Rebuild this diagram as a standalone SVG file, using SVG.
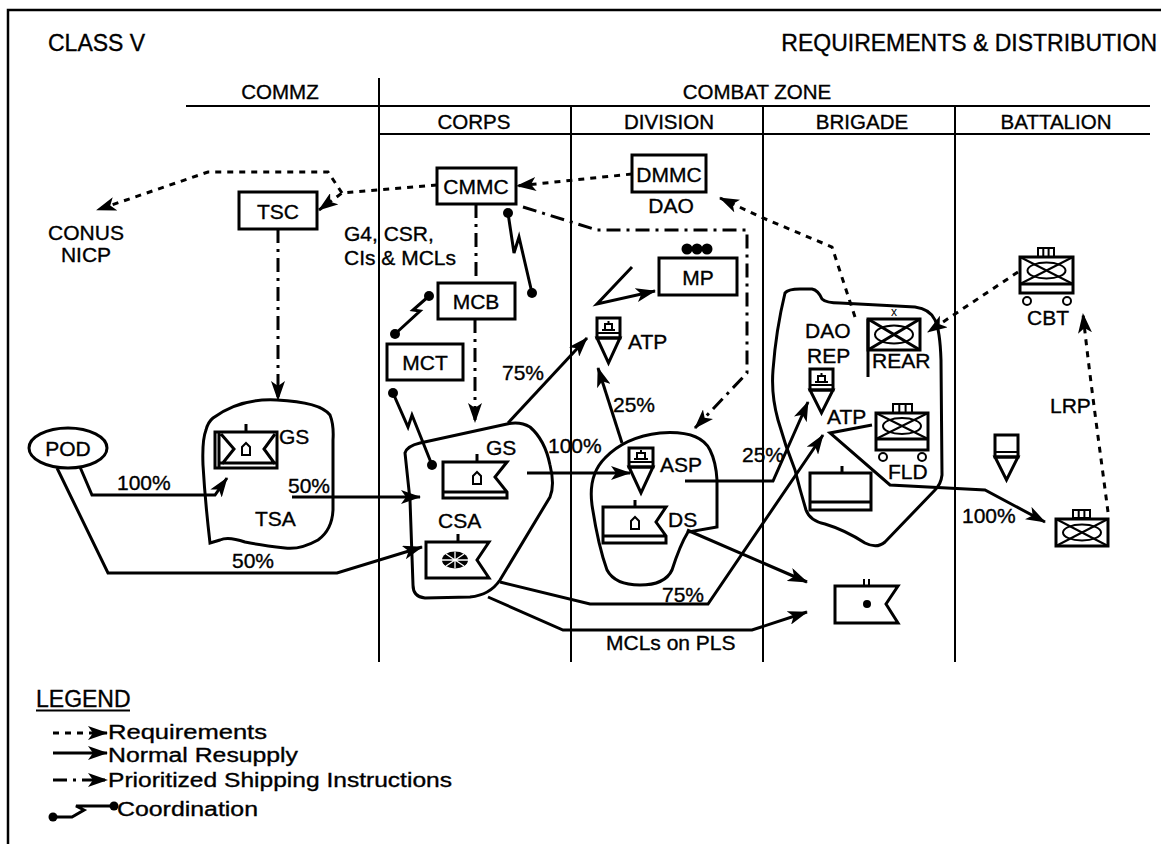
<svg xmlns="http://www.w3.org/2000/svg" width="1161" height="844" viewBox="0 0 1161 844">
<style>
text{font-family:"Liberation Sans",Arial,Helvetica,sans-serif;fill:#000;stroke:#000;stroke-width:0.35}
.t{font-size:21px}
.h{font-size:20.5px}
.ti{font-size:23px}
.lg{font-size:20px}
.lgh{font-size:23px}
.sm{font-size:12px;stroke-width:0}
.c{text-anchor:middle}
.frame{fill:none;stroke:#000;stroke-width:2.5}
.grid{fill:none;stroke:#000;stroke-width:2}
.box{fill:#fff;stroke:#000;stroke-width:3}
.sym{fill:none;stroke:#000;stroke-width:3}
.thin{fill:none;stroke:#000;stroke-width:2}
.blob{fill:none;stroke:#000;stroke-width:3}
.sol{fill:none;stroke:#000;stroke-width:3}
.req{fill:none;stroke:#000;stroke-width:3;stroke-dasharray:6 6}
.pri{fill:none;stroke:#000;stroke-width:3;stroke-dasharray:14 6 3 6}
.coord{fill:none;stroke:#000;stroke-width:3}
.dot{fill:#000}
</style>
<defs>
<marker id="arr" viewBox="0 0 20 14" refX="19" refY="7" markerWidth="20" markerHeight="14" markerUnits="userSpaceOnUse" orient="auto"><path d="M0,0 L20,7 L0,14 L5,7 Z" fill="#000"/></marker>
</defs>
<rect x="0" y="0" width="1161" height="844" fill="#fff"/>
<g id="frame">
<path class="frame" d="M8,844 V10 H1161"/>
<path class="grid" d="M186,106 H1150 M379,134 H1150 M379,78 V662 M571,106 V662 M763,106 V662 M955,106 V662"/>
<text class="ti" x="48" y="51">CLASS V</text>
<text class="ti" x="1157" y="51" text-anchor="end">REQUIREMENTS &amp; DISTRIBUTION</text>
<text class="h c" x="280" y="99">COMMZ</text>
<text class="h c" x="757" y="99">COMBAT ZONE</text>
<text class="h c" x="474" y="129">CORPS</text>
<text class="h c" x="669" y="129">DIVISION</text>
<text class="h c" x="862" y="129">BRIGADE</text>
<text class="h c" x="1056" y="129">BATTALION</text>
</g>
<g id="blobs">
<path id="tsa-area" class="blob" d="M213,418 Q240,398 277,400 Q320,402 330,415 Q334,425 333,440 L333,510 Q332,530 318,540 Q300,550 285,548 Q260,545 245,542 Q228,536 220,540 L210,543 Q205,500 203,465 Q202,440 206,430 Q208,422 213,418 Z"/>
<path id="csa-area" class="blob" d="M405,453 Q407,446 420,443 L507,424 Q520,421 530,427 Q545,440 550,465 Q555,485 550,497 L500,580 Q490,595 470,597 L425,598 Q413,597 413,585 L410,500 Z"/>
<path id="asp-area" class="blob" d="M717,480 L717,527 L688,532 Q680,545 672,570 Q665,585 640,585 Q615,585 607,570 Q598,545 592,505 Q588,475 605,458 Q625,437 660,433 Q700,430 710,450 Q716,462 717,480 Z"/>
<path id="bde-area" class="blob" d="M785,293 Q788,289 800,289 L812,289 Q818,290 822,299 Q826,303 840,303 L915,307 Q930,309 935,320 Q940,330 941,360 L942,475 Q941,484 935,490 L885,542 Q877,549 865,543 Q845,530 825,524 Q810,521 806,510 Q800,490 795,470 Q785,445 778,420 Q771,395 773,370 Q776,330 785,293 Z"/>
</g>
<g id="connectors">
<path class="req" d="M437,185 L342,193 L319,210" marker-end="url(#arr)"/>
<path class="req" d="M342,193 L328,172 L208,172 L97,210" marker-end="url(#arr)"/>
<path class="req" d="M632,174 L517,186" marker-end="url(#arr)"/>
<path class="req" d="M855,317 L832,247 L763,218 L720,198" marker-end="url(#arr)"/>
<path class="req" d="M1018,272 L928,332" marker-end="url(#arr)"/>
<path class="req" d="M1108,512 C1100,450 1090,380 1083,314" marker-end="url(#arr)"/>
<path class="sol" d="M80,467 L92,495 L215,495 L227,478" marker-end="url(#arr)"/>
<path class="sol" d="M57,468 L108,573 L337,573 L422,547" marker-end="url(#arr)"/>
<path class="sol" d="M292,497 L420,497" marker-end="url(#arr)"/>
<path class="sol" d="M508,423 L587,338" marker-end="url(#arr)"/>
<path class="sol" d="M527,473 L630,473" marker-end="url(#arr)"/>
<path class="sol" d="M622,443 L598,368" marker-end="url(#arr)"/>
<path class="sol" d="M685,481 L773,481 L808,402" marker-end="url(#arr)"/>
<path class="sol" d="M500,582 L590,604 L708,604 L823,435" marker-end="url(#arr)"/>
<path class="sol" d="M488,597 L563,630 L752,630 L807,612" marker-end="url(#arr)"/>
<path class="sol" d="M687,530 L807,582" marker-end="url(#arr)"/>
<path class="sol" d="M872,425 L830,433 L890,485 L985,490 L1045,522" marker-end="url(#arr)"/>
<path class="sol" d="M632,267 L597,304 L655,291" marker-end="url(#arr)"/>
<path class="pri" d="M278,229 L278,400" marker-end="url(#arr)"/>
<path class="pri" d="M476,204 L476,283"/>
<path class="pri" d="M475,319 L475,422" marker-end="url(#arr)"/>
<path class="pri" d="M523,207 L597,230 L747,230 L747,373 L695,428" marker-end="url(#arr)"/>
<path class="coord" d="M508,213 L514,253 L519,237 L532,293"/>
<circle class="dot" cx="508" cy="213" r="5"/><circle class="dot" cx="532" cy="293" r="5"/>
<path class="coord" d="M429,296 L413,310 L420,311 L395,334"/>
<circle class="dot" cx="429" cy="296" r="5"/><circle class="dot" cx="395" cy="334" r="5"/>
<path class="coord" d="M393,393 L408,427 L412,415 L432,465"/>
<circle class="dot" cx="393" cy="393" r="5"/><circle class="dot" cx="432" cy="465" r="5"/>
</g>
<g id="conus"><text class="t c" x="86" y="240">CONUS</text><text class="t c" x="86" y="262">NICP</text></g>
<g id="pod"><ellipse cx="68" cy="448" rx="39" ry="20" fill="#fff" stroke="#000" stroke-width="3"/><text class="t c" x="68" y="456">POD</text></g>
<g id="tsc"><rect class="box" x="239" y="192" width="78" height="37"/><text class="t c" x="278" y="219">TSC</text></g>
<g id="cmmc"><rect class="box" x="437" y="168" width="79" height="36"/><text class="t c" x="476" y="194">CMMC</text></g>
<g id="dmmc"><rect class="box" x="632" y="155" width="74" height="37"/><text class="t c" x="669" y="182">DMMC</text><text class="t c" x="671" y="213">DAO</text></g>
<g id="g4text"><text class="t" x="344" y="241">G4, CSR,</text><text class="t" x="344" y="265">CIs &amp; MCLs</text></g>
<g id="mcb"><rect class="box" x="438" y="283" width="77" height="36"/><text class="t c" x="476" y="309">MCB</text></g>
<g id="mct"><rect class="box" x="387" y="344" width="76" height="36"/><text class="t c" x="425" y="370">MCT</text></g>
<g id="mp"><rect class="box" x="659" y="258" width="78" height="37"/><text class="t c" x="698" y="285">MP</text>
<circle class="dot" cx="687" cy="249" r="5.5"/><circle class="dot" cx="697" cy="249" r="5.5"/><circle class="dot" cx="707" cy="249" r="5.5"/></g>
<g id="tsa-gs">
<rect class="sym" x="215" y="432" width="62" height="36"/>
<path class="sym" d="M219,432 V468 M221,434 L234,449 L222,464 M275,434 L264,449 L275,464 M219,463 H277 M246,432 V424"/>
<path class="thin" d="M242,455 V447 L246,443 L250,447 V455 Z"/>
<text class="t" x="279" y="444">GS</text>
<text class="t" x="255" y="526">TSA</text>
</g>
<g id="corps-gs">
<path class="sym" d="M443,462 H507 L495,477 L507,492 V498 H443 Z M443,492 H507 M477,462 V454"/>
<path class="thin" d="M473,484 V476 L477,472 L481,476 V484 Z"/>
<text class="t" x="486" y="455">GS</text>
</g>
<g id="csa">
<path class="sym" d="M426,542 H489 L477,560 L489,578 H426 Z M458,542 V534"/>
<ellipse cx="455" cy="560" rx="13" ry="8.5" fill="#000"/>
<path d="M442,560 H468 M455,551.5 V568.5 M446,554 L464,566 M464,554 L446,566" stroke="#fff" stroke-width="1.3"/>
<text class="t" x="438" y="528">CSA</text>
</g>
<g id="div-atp">
<rect class="sym" x="597" y="318" width="23" height="20"/>
<path class="thin" d="M597,333 H620 M602,330 H615 M605,330 V324 H612 V330 M608.5,324 V321"/>
<path class="sym" d="M597,338 H620 L608.5,363 Z"/>
<text class="t" x="628" y="349">ATP</text>
</g>
<g id="asp">
<rect class="sym" x="629" y="448" width="24" height="19"/>
<path class="thin" d="M629,462 H653 M634,459 H648 M637,459 V453 H645 V459 M641,453 V450"/>
<path class="sym" d="M629,467 H653 L641,493 Z"/>
<text class="t" x="660" y="472">ASP</text>
</g>
<g id="ds">
<path class="sym" d="M603,507 H666 L656,522 L666,536 V543 H603 Z M603,536 H666 M635,507 V500"/>
<path class="thin" d="M631,529 V521 L635,517 L639,521 V529 Z"/>
<text class="t" x="668" y="527">DS</text>
</g>
<g id="mcl-point">
<path class="sym" d="M835,586 H898 L886,604 L898,623 H835 Z"/>
<path class="thin" d="M864,579 V586 M869,579 V586"/>
<circle class="dot" cx="867" cy="604" r="4"/>
</g>
<g id="bde-atp">
<text class="t" x="805" y="338">DAO</text><text class="t" x="807" y="363">REP</text>
<rect class="sym" x="810" y="369" width="23" height="21"/>
<path class="thin" d="M810,385 H833 M815,382 H828 M818,382 V376 H825 V382 M821.5,376 V373"/>
<path class="sym" d="M810,390 H833 L821.5,413 Z"/>
<text class="t" x="827" y="424">ATP</text>
</g>
<g id="bde-bldg"><path class="sym" d="M810,473 H871 V510 H810 Z M810,502 H871 M842,473 V466"/></g>
<g id="rear">
<rect class="sym" x="868" y="319" width="52" height="31"/>
<path class="sym" d="M868,319 L920,350 M920,319 L868,350 M868,319 V377"/>
<ellipse class="thin" cx="894" cy="334.5" rx="19" ry="9"/>
<text class="sm" x="894" y="316" text-anchor="middle">x</text>
<text class="t" x="872" y="368">REAR</text>
</g>
<g id="fld">
<path class="thin" d="M893,404 H912 V413 H893 Z M899.3,404 V413 M905.6,404 V413"/>
<rect class="sym" x="876" y="413" width="52" height="37"/>
<path class="sym" d="M876,439 H928"/>
<path class="thin" d="M876,413 L928,439 M928,413 L876,439"/>
<ellipse class="thin" cx="902" cy="426" rx="19" ry="8"/>
<circle cx="883" cy="457" r="4" fill="#fff" stroke="#000" stroke-width="2"/><circle cx="922" cy="457" r="4" fill="#fff" stroke="#000" stroke-width="2"/>
<text class="t" x="888" y="479">FLD</text>
</g>
<g id="cbt">
<path class="thin" d="M1038,248 H1054 V257 H1038 Z M1043.3,248 V257 M1048.6,248 V257"/>
<rect class="sym" x="1020" y="257" width="53" height="36"/>
<path class="sym" d="M1020,284 H1073"/>
<path class="thin" d="M1020,257 L1073,284 M1073,257 L1020,284"/>
<ellipse class="thin" cx="1046.5" cy="270.5" rx="19" ry="8"/>
<circle cx="1027" cy="301" r="4" fill="#fff" stroke="#000" stroke-width="2"/><circle cx="1067" cy="301" r="4" fill="#fff" stroke="#000" stroke-width="2"/>
<text class="t" x="1027" y="325">CBT</text>
</g>
<g id="bn-atp">
<rect class="sym" x="995" y="435" width="23" height="22"/>
<path class="thin" d="M995,452 H1018"/>
<path class="sym" d="M995,457 H1018 L1006.5,480 Z"/>
</g>
<g id="bn-unit">
<path class="thin" d="M1073,510 H1090 V518 H1073 Z M1078.7,510 V518 M1084.4,510 V518"/>
<rect class="sym" x="1056" y="519" width="52" height="27"/>
<path class="thin" d="M1056,519 L1108,546 M1108,519 L1056,546"/>
<ellipse class="thin" cx="1082" cy="532.5" rx="19" ry="8"/>
</g>
<g id="labels">
<text class="t" x="117" y="490">100%</text>
<text class="t" x="288" y="493">50%</text>
<text class="t" x="232" y="568">50%</text>
<text class="t" x="502" y="380">75%</text>
<text class="t" x="613" y="412">25%</text>
<text class="t" x="548" y="453">100%</text>
<text class="t" x="742" y="462">25%</text>
<text class="t" x="662" y="602">75%</text>
<text class="t" x="606" y="650">MCLs on PLS</text>
<text class="t" x="962" y="523">100%</text>
<text class="t" x="1050" y="413">LRP</text>
</g>
<g id="legend">
<text class="lgh" x="36" y="707">LEGEND</text>
<path class="thin" d="M36,710.5 H130"/>
<path class="req" d="M53,733 L107,733" marker-end="url(#arr)"/>
<text class="lg" x="108" y="739" textLength="159" lengthAdjust="spacingAndGlyphs">Requirements</text>
<path class="sol" d="M53,753 L107,753" marker-end="url(#arr)"/>
<text class="lg" x="108" y="762" textLength="190" lengthAdjust="spacingAndGlyphs">Normal Resupply</text>
<path class="pri" d="M53,780 L107,780" marker-end="url(#arr)"/>
<text class="lg" x="108" y="787" textLength="344" lengthAdjust="spacingAndGlyphs">Prioritized Shipping Instructions</text>
<path class="coord" d="M53,817 H72 L84,810 L76,806 H113"/>
<circle class="dot" cx="53" cy="817" r="4.5"/><circle class="dot" cx="114" cy="806" r="4.5"/>
<text class="lg" x="117" y="816" textLength="141" lengthAdjust="spacingAndGlyphs">Coordination</text>
</g>
</svg>
